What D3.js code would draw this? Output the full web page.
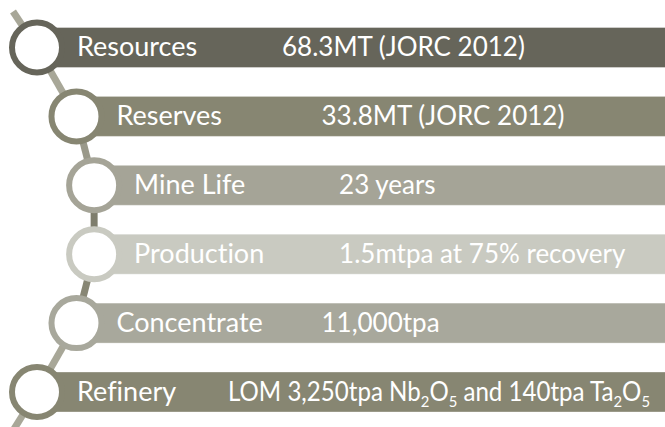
<!DOCTYPE html>
<html>
<head>
<meta charset="utf-8">
<script src="https://cdn.jsdelivr.net/npm/d3@7"></script>
<style>
  html, body { margin: 0; padding: 0; background: #fff; }
  svg { display: block; }
  text { font-family: Lato, "Open Sans", sans-serif; fill: #fff; font-variant-ligatures: none; }
</style>
</head>
<body>
<div id="chart"></div>
<script>
  "use strict";

  // data
  const stages = ["Resources", "Reserves", "Mine Life", "Production", "Concentrate", "Refinery"];
  const values = [
    "68.3MT (JORC 2012)",
    "33.8MT (JORC 2012)",
    "23 years",
    "1.5mtpa at 75% recovery",
    "11,000tpa",
    "LOM 3,250tpa Nb{2}O{5} and 140tpa Ta{2}O{5}"   // {n} = subscript
  ];
  const barColors = ["#66655a", "#878672", "#a5a497", "#c9cac1", "#a8a89c", "#878672"];
  const linkColors = ["#a8a798", "#a8a798", "#9a998a", "#7e7d6c", "#878674", "#a8a798", "#a8a798"];

  const width = 665, height = 427;
  const barH = 40, ringR = 25, ringW = 6;
  const arcR = 280;           // the circles sit on a gentle curve
  const labelGap = 40;
  const valueGap = [205, 205, 205, 205, 205, 151];
  const rightPad = 15;

  const svg = d3.select("#chart").append("svg")
    .attr("width", width)
    .attr("height", height);

  const y = d3.scalePoint()
    .domain(stages)
    .range([47.5, 392]);

  const midY = (y(stages[0]) + y(stages[stages.length - 1])) / 2;
  const edgeD = y(stages[stages.length - 1]) - midY;
  const x0 = 37;
  function cx(d) {
    const dy = y(d) - midY;
    return x0 + Math.sqrt(arcR * arcR - dy * dy) - Math.sqrt(arcR * arcR - edgeD * edgeD);
  }

  // connector line: from the top edge, through every circle, out at the bottom
  const first = stages[0], last = stages[stages.length - 1];
  const pts = [[cx(first) - 24, y(first) - 36]]
    .concat(stages.map(d => [cx(d), y(d)]))
    .concat([[cx(last) - 23, y(last) + 37]]);

  svg.append("g")
    .selectAll("line")
    .data(d3.pairs(pts))
    .join("line")
      .attr("x1", d => d[0][0])
      .attr("y1", d => d[0][1])
      .attr("x2", d => d[1][0])
      .attr("y2", d => d[1][1])
      .attr("stroke", (d, i) => linkColors[i])
      .attr("stroke-width", 7);

  const row = svg.append("g")
    .selectAll("g")
    .data(stages)
    .join("g");

  row.append("rect")
    .attr("x", d => cx(d))
    .attr("y", d => y(d) - barH / 2)
    .attr("width", d => width - cx(d) + 2)
    .attr("height", barH)
    .attr("fill", (d, i) => barColors[i])
    .attr("stroke", "rgba(255,255,255,0.35)")
    .attr("stroke-width", 1);

  row.append("circle")
    .attr("cx", d => cx(d))
    .attr("cy", d => y(d))
    .attr("r", ringR)
    .attr("fill", "#fff")
    .attr("stroke", (d, i) => barColors[i])
    .attr("stroke-width", ringW);

  row.append("text")
    .attr("x", d => cx(d) + labelGap)
    .attr("y", d => y(d))
    .attr("dy", "0.33em")
    .attr("font-size", 27)
    .text(d => d);

  const val = row.append("text")
    .attr("x", (d, i) => cx(d) + labelGap + valueGap[i])
    .attr("y", d => y(d))
    .attr("dy", "0.33em")
    .attr("font-size", 26);

  // split each value into normal runs and subscripts
  val.each(function (d, i) {
    const t = d3.select(this);
    const parts = values[i].split(/(\{[^}]*\})/).filter(s => s.length);
    let shifted = false;
    parts.forEach(p => {
      if (p[0] === "{") {
        t.append("tspan")
          .attr("font-size", 16)
          .attr("dy", shifted ? 0 : 6)
          .text(p.slice(1, -1));
        shifted = true;
      } else {
        t.append("tspan")
          .attr("dy", shifted ? -6 : null)
          .text(p);
        shifted = false;
      }
    });
    // squeeze a value that would run past the right edge
    const room = width - rightPad - (cx(d) + labelGap + valueGap[i]);
    if (this.getComputedTextLength() > room) {
      t.attr("textLength", room).attr("lengthAdjust", "spacingAndGlyphs");
    }
  });
</script>
</body>
</html>
